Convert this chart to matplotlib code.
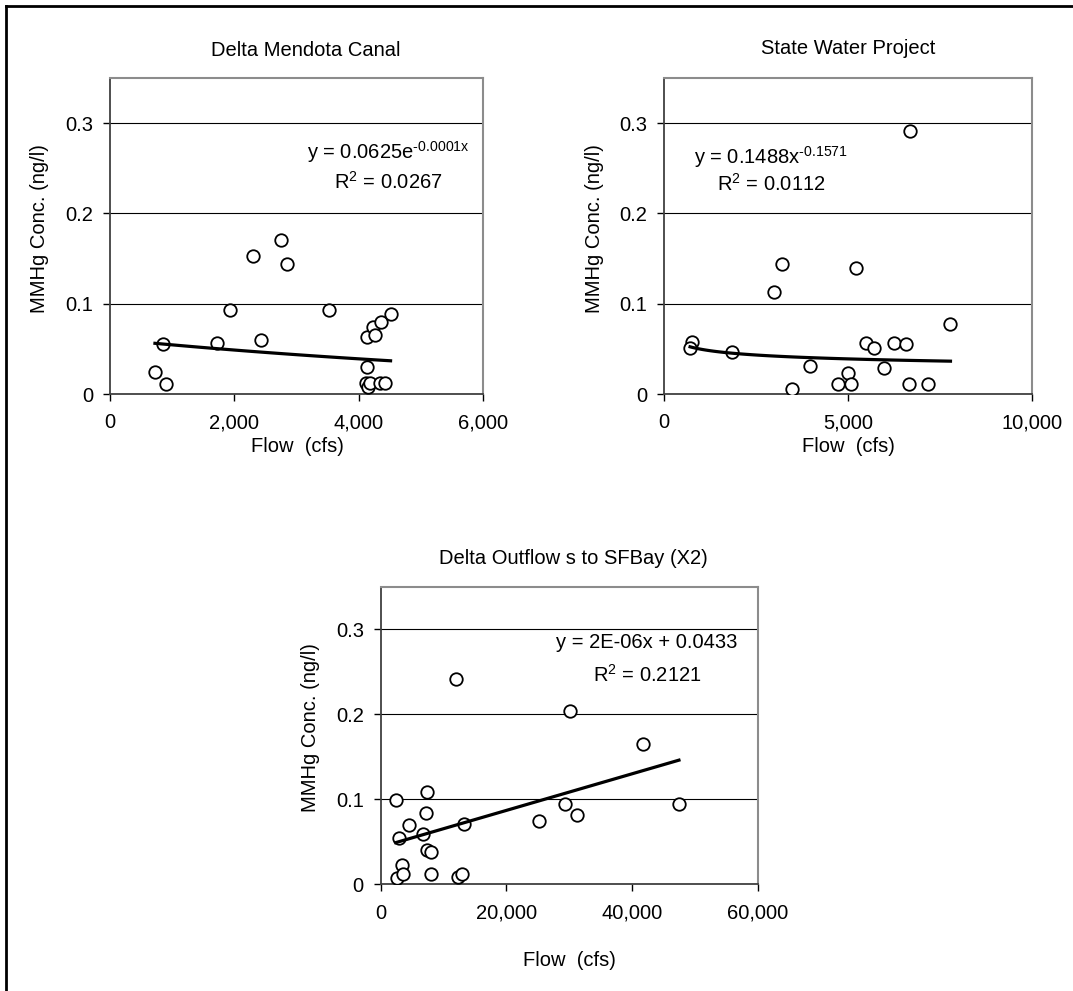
import numpy as np
import matplotlib
matplotlib.use("Agg")
import matplotlib.pyplot as plt
from matplotlib.lines import Line2D
from matplotlib.ticker import FuncFormatter

plt.rcParams['font.family'] = ['Liberation Sans', 'DejaVu Sans']
plt.rcParams['mathtext.fontset'] = 'custom'
plt.rcParams['mathtext.rm'] = 'Liberation Sans'
plt.rcParams['mathtext.it'] = 'Liberation Sans:italic'

# Delta Mendota Canal: flow (cfs) vs MMHg (ng/l)
dmc_flow = [723, 899, 857, 1927, 1729, 2302, 2431, 2752, 2854, 3523,
            4133, 4229, 4262, 4363, 4513, 4133, 4123, 4155, 4187, 4337, 4422]
dmc_mmhg = [0.024, 0.011, 0.055, 0.093, 0.056, 0.153, 0.060, 0.171, 0.144, 0.093,
            0.063, 0.074, 0.065, 0.080, 0.089, 0.030, 0.012, 0.008, 0.012, 0.012, 0.012]

# State Water Project
swp_flow = [755, 709, 1846, 3000, 3208, 3481, 3962, 4735, 5007, 5080,
            5217, 5500, 5718, 5991, 6264, 6591, 6690, 6663, 7191, 7791]
swp_mmhg = [0.058, 0.051, 0.046, 0.113, 0.144, 0.006, 0.031, 0.011, 0.023, 0.011,
            0.140, 0.057, 0.051, 0.029, 0.057, 0.055, 0.291, 0.011, 0.011, 0.078]

# Delta outflows to SF Bay (X2)
x2_flow = [2430, 2640, 2955, 3380, 3590, 4540, 6760, 7190, 7460, 7460, 8090,
           8090, 11950, 12270, 12950, 13220, 25280, 29410, 30200, 31260, 41740, 47500]
x2_mmhg = [0.099, 0.007, 0.055, 0.023, 0.012, 0.070, 0.059, 0.084, 0.108, 0.040, 0.038,
           0.012, 0.241, 0.008, 0.012, 0.071, 0.075, 0.094, 0.204, 0.082, 0.165, 0.094]

titles = ["Delta Mendota Canal", "State Water Project", "Delta Outflow s to SFBay (X2)"]
equations = [(r"y = 0.0625e$^{\text{-0.0001x}}$", r"R$^2$ = 0.0267"),
             (r"y = 0.1488x$^{\text{-0.1571}}$", r"R$^2$ = 0.0112"),
             ("y = 2E-06x + 0.0433", r"R$^2$ = 0.2121")]
yticks = [0, 0.1, 0.2, 0.3]
ytick_labels = ["0", "0.1", "0.2", "0.3"]

W, H = 1073, 991
fig = plt.figure(figsize=(W / 100, H / 100), dpi=100)


def px(x, y):
    return x / W, 1 - y / H


def make_ax(left, top, right, bottom):
    ax = fig.add_axes([left / W, 1 - bottom / H, (right - left) / W, (bottom - top) / H])
    ax.set_ylim(0, 0.35)
    ax.set_yticks(yticks)
    ax.set_yticklabels(ytick_labels)
    ax.grid(axis='y', color='black', linewidth=0.8)
    ax.set_axisbelow(True)
    for s in ['top', 'right']:
        ax.spines[s].set_color('#8c8c8c')
        ax.spines[s].set_linewidth(1.5)
    for s in ['left', 'bottom']:
        ax.spines[s].set_color('#404040')
        ax.spines[s].set_linewidth(1.3)
    ax.tick_params(direction='out', length=5, width=1, labelsize=14.5, pad=7)
    ax.tick_params(axis='x', pad=9)
    ax.xaxis.set_major_formatter(FuncFormatter(lambda v, p: f"{int(v):,}"))
    return ax


mk = dict(marker='o', linestyle='none', markersize=9, markerfacecolor='white',
          markeredgecolor='black', markeredgewidth=1.3, zorder=3)

# panel 1
ax1 = make_ax(110, 78, 483, 394)
ax1.set_xlim(0, 6000)
ax1.set_xticks([0, 2000, 4000, 6000])
ax1.plot(dmc_flow, dmc_mmhg, **mk)
x = np.array(dmc_flow, float)
b, a = np.polyfit(x, np.log(dmc_mmhg), 1)
xx = np.linspace(x.min(), x.max(), 100)
ax1.plot(xx, np.exp(a) * np.exp(b * xx), color='black', lw=2.3, zorder=4)

# panel 2
ax2 = make_ax(664, 78, 1031.7, 394)
ax2.set_xlim(0, 10000)
ax2.set_xticks([0, 5000, 10000])
ax2.plot(swp_flow, swp_mmhg, **mk)
x = np.array(swp_flow, float)
b, a = np.polyfit(np.log(x), np.log(swp_mmhg), 1)
xx = np.linspace(x.min(), x.max(), 100)
ax2.plot(xx, np.exp(a) * xx ** b, color='black', lw=2.3, zorder=4)

# panel 3
ax3 = make_ax(380.5, 586.7, 757.5, 884.3)
ax3.set_xlim(0, 60000)
ax3.set_xticks([0, 20000, 40000, 60000])
ax3.plot(x2_flow, x2_mmhg, **mk)
x = np.array(x2_flow, float)
b, a = np.polyfit(x, x2_mmhg, 1)
xx = np.array([x.min(), x.max()])
ax3.plot(xx, a + b * xx, color='black', lw=2.3, zorder=4)

fs = 14.5
# titles
fig.text(*px(306, 50), titles[0], ha='center', va='center', fontsize=fs)
fig.text(*px(848, 48), titles[1], ha='center', va='center', fontsize=fs)
fig.text(*px(573, 558), titles[2], ha='center', va='center', fontsize=fs)

# axis labels
for xl, yl in [(40, 229), (594, 229), (310, 728)]:
    fig.text(*px(xl, yl), "MMHg Conc. (ng/l)", rotation=90, ha='center', va='center', fontsize=fs)
for xl, yl in [(297, 446), (848, 446), (569, 960)]:
    fig.text(*px(xl, yl), "Flow  (cfs)", ha='center', va='center', fontsize=fs)

# trendline equations
for (ex, ey1, ey2), (e1, e2) in zip([(388, 152, 182), (771, 157, 184), (647, 642, 675)], equations):
    fig.text(*px(ex, ey1), e1, ha='center', va='center', fontsize=fs)
    fig.text(*px(ex, ey2), e2, ha='center', va='center', fontsize=fs)

# outer frame (top and left edges visible)
fig.add_artist(Line2D([5.5 / W, 1], [1 - 5.5 / H, 1 - 5.5 / H], color='black', lw=2))
fig.add_artist(Line2D([6 / W, 6 / W], [0, 1 - 5.5 / H], color='black', lw=2))

fig.savefig("out.png", dpi=100)
